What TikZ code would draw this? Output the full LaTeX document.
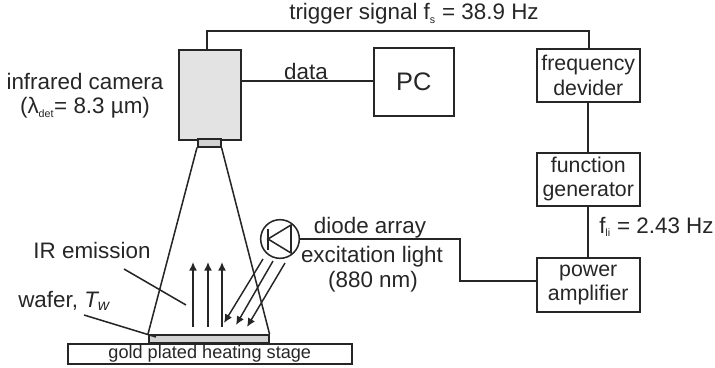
\documentclass[tikz,border=0pt]{standalone}
\usepackage{fontspec}
\setmainfont{Liberation Sans}
\usetikzlibrary{arrows.meta}
\definecolor{ink}{gray}{0.15}
\definecolor{txt}{gray}{0.15}
\tikzset{
  x=0.75pt,y=-0.75pt,
  wire/.style={draw=ink,line width=1.4pt,line join=miter},
  thin wire/.style={draw=ink,line width=1.15pt},
  boxn/.style={draw=ink,line width=1.15pt,inner sep=0pt,align=center,text=txt,font=\fontsize{16}{18.2}\selectfont},
  lab/.style={inner sep=0pt,text=txt,align=center,font=\fontsize{16.8}{19}\selectfont},
  ray/.style={draw=ink,line width=1.1pt,-{Latex[length=6.5pt,width=6pt]}},
}
\newcommand{\sbs}[1]{\textsubscript{\fontsize{8}{8}\selectfont #1}}
\begin{document}
\begin{tikzpicture}
\useasboundingbox (0,0) rectangle (715,368);
% camera
\node[boxn,fill=gray!22,minimum width=46.5pt,minimum height=67.5pt,anchor=north west] (cam) at (178,49) {};
\node[boxn,fill=gray!35,minimum width=17.25pt,minimum height=6pt,anchor=north west] (lens) at (197,138) {};
% stage and wafer
\node[boxn,minimum width=213pt,minimum height=15pt,anchor=north west,font=\fontsize{13.6}{14}\selectfont] (stage) at (67,343) {gold plated heating stage};
\node[boxn,fill=gray!35,minimum width=90pt,minimum height=6pt,anchor=north west] (wafer) at (148,334) {};
% cone
\draw[thin wire] (lens.south west) -- (wafer.north west);
\draw[thin wire] (lens.south east) -- (wafer.north east);
% boxes
\node[boxn,minimum width=60pt,minimum height=51pt,anchor=north west,font=\fontsize{19}{22}\selectfont] (pc) at (373,47) {PC};
\node[boxn,minimum width=77.25pt,minimum height=39.75pt,anchor=north west] (fd) at (536,48) {frequency\\devider};
\node[boxn,minimum width=77.25pt,minimum height=39.75pt,anchor=north west] (fg) at (536,152) {function\\generator};
\node[boxn,minimum width=77.25pt,minimum height=40.5pt,anchor=north west] (pa) at (536,257) {power\\amplifier};
% connectors
\coordinate (tl) at (207,31);
\coordinate (tr) at (589,31);
\coordinate (camtop) at (207,49);
\coordinate (fdtop) at (589,48);
\draw[wire] (camtop) -- (tl) -- (tr) -- (fdtop);
\draw[thin wire] (cam.east |- 0,81) -- (pc.west |- 0,81);
\draw[wire] (fd.south) -- (fg.north);
\draw[wire] (fg.south) -- (pa.north);
% diode
\node[draw=ink,line width=1.15pt,circle,minimum size=29pt,inner sep=0pt] (diode) at (280,239) {};
\coordinate (tip) at (268,239);
\coordinate (bart) at (291,225);
\coordinate (barb) at (291,253);
\coordinate (tipt) at (268,229);
\coordinate (tipb) at (268,250);
\draw[thin wire] (tip) -- (bart) -- (barb) -- cycle;
\draw[thin wire] (tipt) -- (tipb);
\coordinate (k1) at (460,239);
\coordinate (k2) at (460,281);
\draw[thin wire] (diode.east) -- (k1) -- (k2) -- (pa.west |- k2);
% rays
\foreach \n/\a/\b/\c/\d in {a/193/327/193/262,b/208/327/208/262,c/222/327/222/262,d/263/259/224/323,e/273/261/236/325,f/285/263/247/327}{
  \coordinate (s\n) at (\a,\b);
  \coordinate (e\n) at (\c,\d);
  \draw[ray] (s\n) -- (e\n);
}
% leaders
\coordinate (l1) at (124,269);
\coordinate (l2) at (186,305);
\coordinate (l3) at (84,315);
\coordinate (l4) at (156,337);
\draw[thin wire] (l1) -- (l2);
\draw[thin wire] (l3) -- (l4);
% labels
\node[lab] (t1) at (414,14) {trigger signal f\sbs{s} = 38.9 Hz};
\node[lab] (t2) at (85,81) {infrared camera};
\node[lab] (t3) at (85,108) {(λ\sbs{det}= 8.3 µm)};
\node[lab] (t4) at (306,71) {data};
\node[lab] (t5) at (92,250) {IR emission};
\node[lab,anchor=west] (t6) at (18,301) {wafer, \textit{T\textsubscript{w}}};
\node[lab] (t7) at (370,228) {diode array};
\node[lab] (t8) at (372,257) {excitation light};
\node[lab] (t9) at (373,282) {(880 nm)};
\node[lab,anchor=west] (t10) at (599,227) {f\sbs{li} = 2.43 Hz};
\end{tikzpicture}
\end{document}
